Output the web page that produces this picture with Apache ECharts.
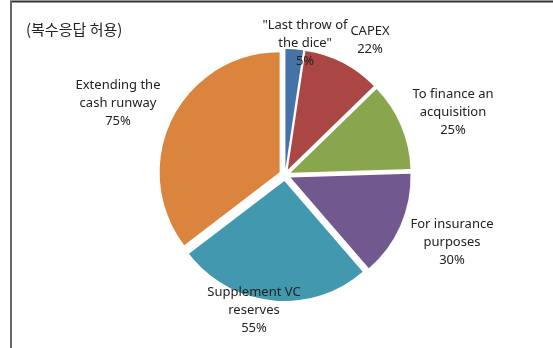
<!DOCTYPE html>
<html>
<head>
<meta charset="utf-8">
<script src="https://cdn.jsdelivr.net/npm/echarts@6/dist/echarts.min.js"></script>
<style>
html,body{margin:0;padding:0;background:#fff;}
#chart{width:553px;height:348px;}
</style>
</head>
<body>
<div id="chart"></div>
<script>
// ---- data ----
const categories = ['"Last throw of\nthe dice"', 'CAPEX', 'To finance an\nacquisition', 'For insurance\npurposes', 'Supplement VC\nreserves', 'Extending the\ncash runway'];
const values = [5, 22, 25, 30, 55, 75];
const note = '(복수응답 허용)';

// ---- styles / layout ----
const colors = ['#4572a7', '#aa4643', '#89a54e', '#71588f', '#4198af', '#db843d'];
const labelPos = [[305, 43], [370, 40], [453, 112], [452, 242], [254, 310], [118, 103]];

const labelTexts = categories.map((c, i) => ({
  type: 'text',
  silent: true,
  z: 100,
  style: {
    text: c + '\n' + values[i] + '%',
    x: labelPos[i][0],
    y: labelPos[i][1],
    textAlign: 'center',
    textVerticalAlign: 'middle',
    fontFamily: '"Noto Sans", sans-serif',
    fontSize: 13,
    lineHeight: 18,
    fill: '#222'
  }
}));

const chart = echarts.init(document.getElementById('chart'), null, {renderer: 'canvas'});
chart.setOption({
  animation: false,
  backgroundColor: '#ffffff',
  title: {
    text: note,
    left: 21, top: 17,
    textStyle: {fontFamily: '"Noto Sans CJK KR", "Noto Sans", sans-serif', fontSize: 15, fontWeight: 'normal', color: '#222'}
  },
  graphic: [
    {type: 'line', shape: {x1: 10, y1: 1.5, x2: 553, y2: 1.5}, style: {stroke: '#333', lineWidth: 2}},
    {type: 'line', shape: {x1: 11, y1: 1, x2: 11, y2: 348}, style: {stroke: '#666', lineWidth: 2}}
  ].concat(labelTexts),
  series: [{
    type: 'pie',
    center: [285, 175],
    radius: [0, 120],
    startAngle: 90,
    clockwise: true,
    selectedMode: 'multiple',
    selectedOffset: 6,
    emphasis: {disabled: true},
    itemStyle: {borderWidth: 0},
    label: {show: false},
    labelLine: {show: false},
    data: categories.map((c, i) => ({
      name: c,
      value: values[i],
      selected: true,
      itemStyle: {color: colors[i]}
    }))
  }]
});
</script>
</body>
</html>
